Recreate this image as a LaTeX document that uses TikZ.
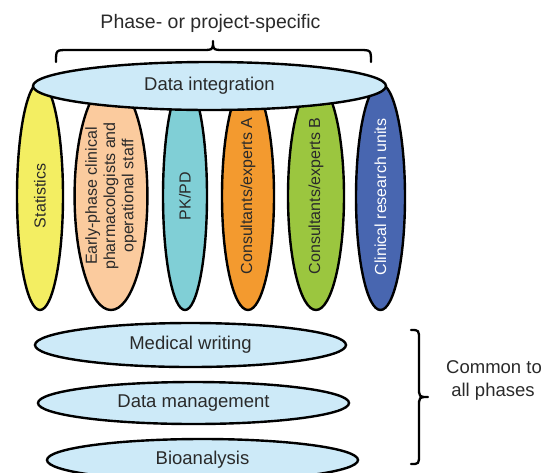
\documentclass[tikz,border=0pt]{standalone}
\usepackage{fontspec}
\setmainfont{Liberation Sans}
\usetikzlibrary{shapes.geometric}

\definecolor{txt}{HTML}{2A2A2A}
\definecolor{sharedfill}{HTML}{CDEAF8}
\definecolor{cstat}{HTML}{F3EE62}
\definecolor{cpharm}{HTML}{FBCB9E}
\definecolor{cpkpd}{HTML}{80CFD6}
\definecolor{ccona}{HTML}{F39A2F}
\definecolor{cconb}{HTML}{9BC63F}
\definecolor{ccru}{HTML}{4866B0}

\begin{document}
\begin{tikzpicture}[x=1pt,y=-1pt,
  blob/.style={ellipse, draw=black, line width=2.4pt, inner sep=0pt, text=txt},
  team/.style={blob, rotate=90, align=center,
    font=\fontsize{16}{18.3}\selectfont, minimum width=228pt},
  shared/.style={blob, fill=sharedfill, font=\fontsize{18.5}{22}\selectfont},
  label/.style={text=txt, anchor=base, inner sep=0pt, font=\fontsize{18.5}{22}\selectfont},
  bracket/.style={draw=black, line width=2.3pt, line cap=round, line join=round}]

\useasboundingbox (0,0) rectangle (556,472);

% project-specific teams (upright ellipses, drawn first)
\node[team, fill=cstat,  minimum height=46pt] (stat)  at (40,196)    {Statistics};
\node[team, fill=cpharm, minimum height=72pt] (pharm) at (111,196)   {Early-phase clinical\\pharmacologists and\\operational staff};
\node[team, fill=cpkpd,  minimum height=44pt] (pkpd)  at (185,196)   {PK/PD};
\node[team, fill=ccona,  minimum height=52pt] (cona)  at (248,196)   {Consultants/experts A};
\node[team, fill=cconb,  minimum height=56pt] (conb)  at (316,196)   {Consultants/experts B};
\node[team, fill=ccru,   minimum height=49pt, minimum width=226pt, text=white] (cru) at (380.5,197) {Clinical research units};

% integration layer across the top
\node[shared, minimum width=353pt, minimum height=48pt] (integ) at (209.5,86) {Data integration};

% shared functions
\node[shared, minimum width=311pt, minimum height=44pt] (medw) at (190.5,345) {Medical writing};
\node[shared, minimum width=311pt, minimum height=42pt] (dman) at (193.5,403) {Data management};
\node[shared, minimum width=311pt, minimum height=42pt] (bioa) at (202.5,460) {Bioanalysis};

% top brace and caption
\draw[bracket] (56,62) .. controls (56,50) .. (68,50) -- (201,50)
  .. controls (213,50) .. (213,41) .. controls (213,50) .. (225,50)
  -- (359,50) .. controls (371,50) .. (371,62);
\node[label, font=\fontsize{19.5}{22}\selectfont] (phase) at (210.5,28) {Phase- or project-specific};

% right brace and caption
\draw[bracket] (411,330) .. controls (419,330) .. (419,340) -- (419,387)
  .. controls (419,397) .. (428,397) .. controls (419,397) .. (419,407)
  -- (419,454) .. controls (419,464) .. (411,464);
\node[label] (common1) at (494,373) {Common to};
\node[label] (common2) at (493,396) {all phases};
\end{tikzpicture}
\end{document}
